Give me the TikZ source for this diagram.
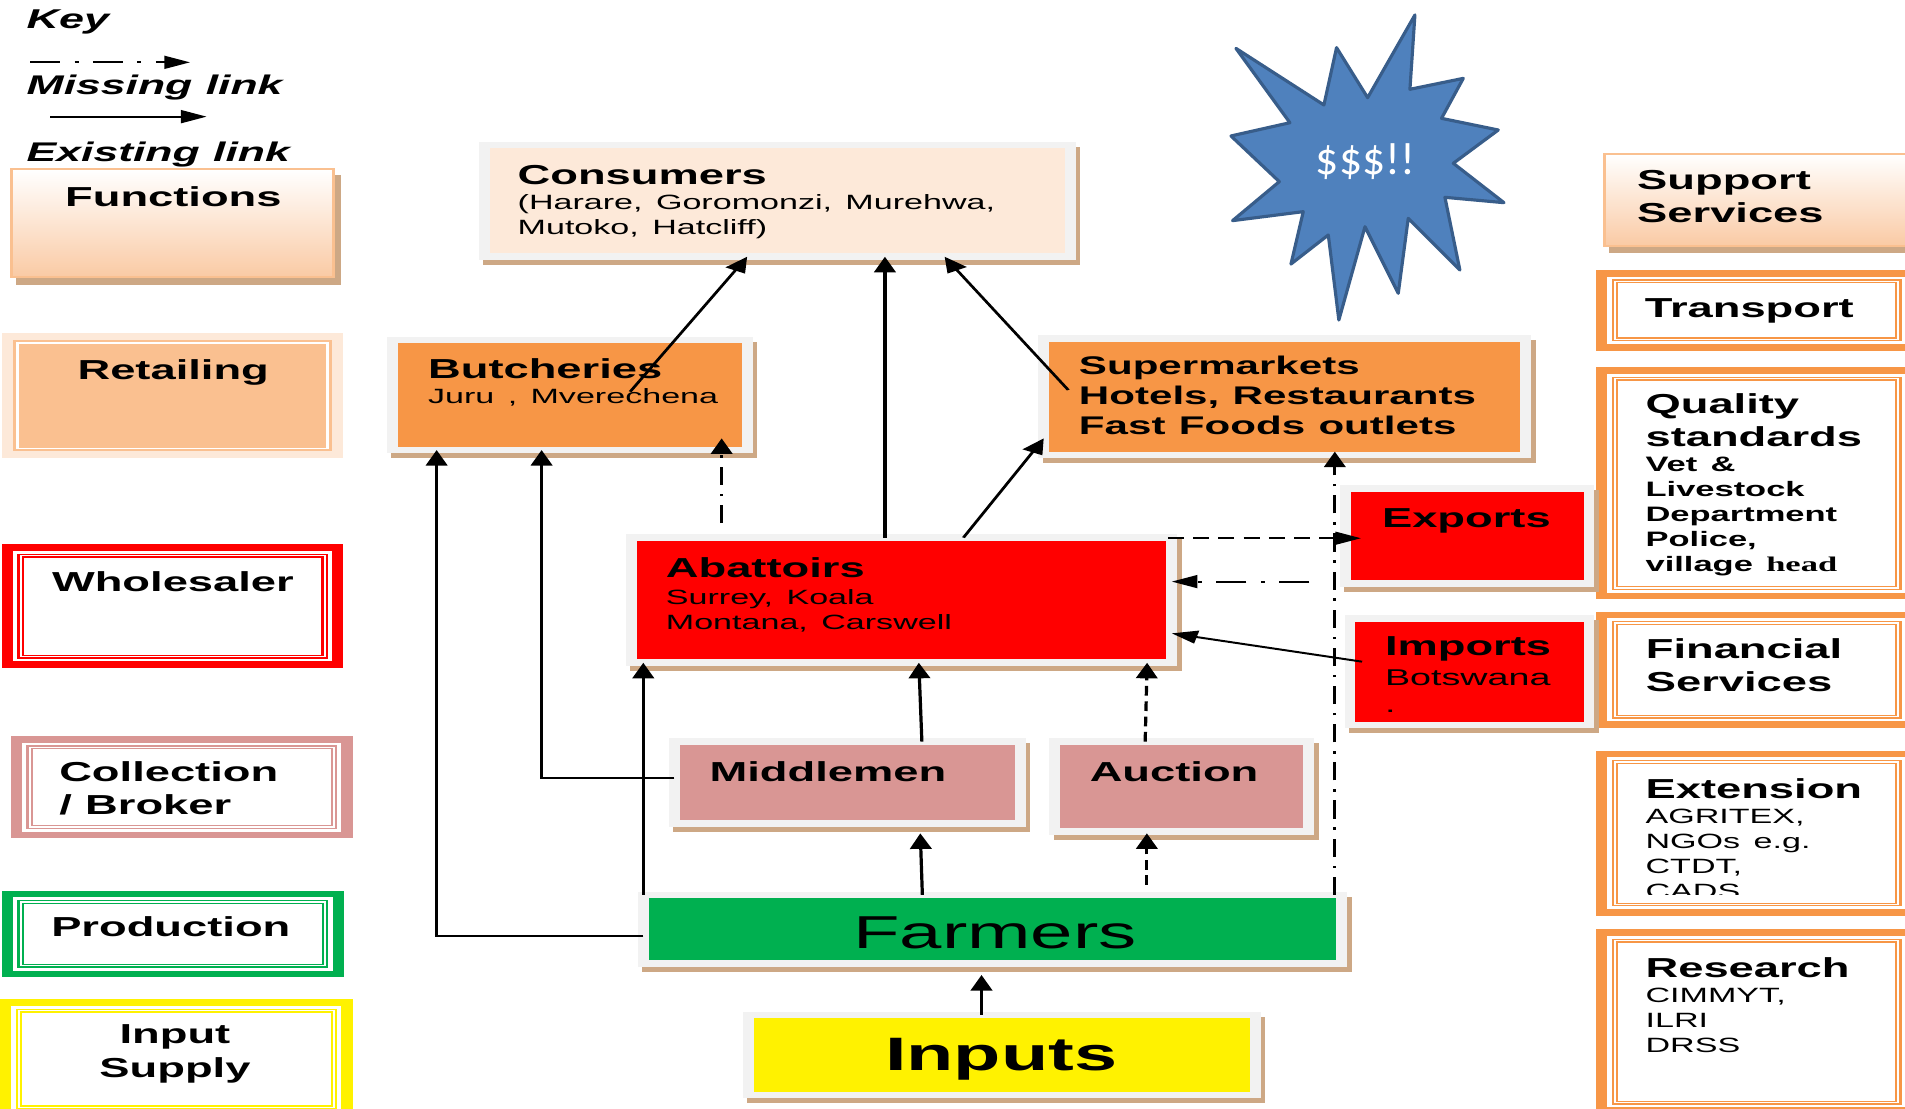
\documentclass[tikz,border=0pt]{standalone}
\usepackage{fontspec}
\setmainfont{Liberation Sans}
\newfontfamily\carlfont{Carlito}
\newfontfamily\timesfont{Liberation Serif}
\usetikzlibrary{fit,calc,arrows.meta}
\setlength{\parindent}{0pt}
\definecolor{framegray}{HTML}{F2F2F2}
\definecolor{shadowtan}{RGB}{205,168,133}
\definecolor{consfill}{HTML}{FDE9D9}
\definecolor{orangefill}{HTML}{F79646}
\definecolor{pinkfill}{HTML}{D99694}
\definecolor{greenfill}{HTML}{00B050}
\definecolor{retfill}{HTML}{FAC090}
\definecolor{funcbot}{RGB}{250,202,164}
\definecolor{funcline}{HTML}{FAC090}
\definecolor{starfill}{HTML}{4F81BD}
\definecolor{starline}{HTML}{385D8A}
\newcommand\Ttl{\fontsize{11.3}{13.75}\selectfont\bfseries}
\newcommand\Sbt{\fontsize{8.5}{10.3}\selectfont\mdseries}
\newcommand\Sbb{\fontsize{8.6}{10.3}\selectfont\bfseries}
\tikzset{
  gbox/.style={fill=#1, draw=framegray, line width=2.7pt, inner sep=0pt, outer sep=0pt,
    preaction={fill=shadowtan, draw=shadowtan, line width=2.7pt, transform canvas={xshift=1.12pt, yshift=-2.05pt}}},
  fbox/.style={fill=white, draw=#1, line width=2.8pt, inner sep=0pt, outer sep=0pt,
    path picture={\draw[#1, line width=0.55pt, double=white, double distance=0.5pt]
      ([shift={(3.3pt,-3.3pt)}]path picture bounding box.north west) rectangle
      ([shift={(-3.3pt,3.3pt)}]path picture bounding box.south east);}},
  funcbox/.style={top color=white, bottom color=funcbot, draw=funcline, line width=0.8pt, inner sep=0pt, outer sep=0pt,
    preaction={fill=shadowtan, draw=shadowtan, line width=0.8pt, transform canvas={xshift=1.42pt, yshift=-2.75pt}}},
  retbox/.style={fill=consfill, inner sep=0pt, outer sep=0pt,
    path picture={\fill[retfill] ([shift={(2.85pt,-2.85pt)}]path picture bounding box.north west) rectangle
      ([shift={(-2.85pt,2.85pt)}]path picture bounding box.south east);
      \draw[white, line width=0.7pt] ([shift={(4pt,-4pt)}]path picture bounding box.north west) rectangle
      ([shift={(-4pt,4pt)}]path picture bounding box.south east);}},
  txt/.style={anchor=north west, inner sep=0pt, outer sep=0pt, text width=250pt, align=left},
  txtc/.style={anchor=north, inner sep=0pt, outer sep=0pt, text width=200pt, align=center},
  exist/.style={line width=0.8pt, -{Triangle[length=6.4pt,width=5.3pt]}},
  miss/.style={exist, dash pattern=on 7.5pt off 3.6pt on 1pt off 3.6pt},
  dashlink/.style={exist, dash pattern=on 4pt off 2.3pt},
}
\begin{document}
\begin{tikzpicture}[x=0.5pt,y=-0.5pt]
\useasboundingbox (0,0) rectangle (1568,912);
\fill[white] (0,0) rectangle (1568,912);
\clip (0,0) rectangle (1568,912);

% starburst (not stretched)
\draw[fill=starfill, draw=starline, line width=1.3pt, line join=round]
 (1017.3,39.8) -- (1089.7,86.4) -- (1100.1,39.2) -- (1125.7,80.4) -- (1164.6,12.3) -- (1160.5,73.5)
 -- (1204.4,64.5) -- (1186.5,97.4) -- (1233.2,107) -- (1196.2,134.4) -- (1237.9,166.8) -- (1189.3,162.4)
 -- (1201.6,222.2) -- (1159.1,179.7) -- (1150.9,241.4) -- (1123.5,186.6) -- (1102,263.4) -- (1093.3,193.4)
 -- (1062.6,217.3) -- (1072.7,174.2) -- (1014.5,181.6) -- (1053,149.5) -- (1013.2,111.9) -- (1061.7,101) -- cycle;
\node[inner sep=0pt, text=white, font=\carlfont\fontsize{18.8}{20}\selectfont] (starT) at (1124,133) {\$\$\$!!};

\begin{scope}[x=0.30303pt, transform canvas={xscale=1.65}]
% key
\node[txt] (keyT) at (22,8.2) {\fontsize{11.2}{13}\selectfont\bfseries\itshape Key\par};
\coordinate (kmA) at (24.7,51.3);
\coordinate (kmB) at (156.4,51.3);
\draw[miss] (kmA) -- (kmB);
\node[txt] (missT) at (22,61.7) {\fontsize{11.1}{13}\selectfont\bfseries\itshape Missing link\par};
\coordinate (keA) at (41.2,96);
\coordinate (keB) at (170.1,96);
\draw[exist] (keA) -- (keB);
\node[txt] (existT) at (22,116.6) {\fontsize{11.1}{13}\selectfont\bfseries\itshape Existing link\par};

% left column
\node[funcbox, fit={(9.5,139.3) (274.4,228.3)}] (func) {};
\node[txtc] (funcT) at (142.7,153.6) {\Ttl Functions\par};
\node[retbox, fit={(1.4,274.3) (282.6,377.2)}] (ret) {};
\node[txtc] (retT) at (142.6,296.3) {\Ttl Retailing\par};
\node[fbox=red, fit={(6,450.8) (278,547.2)}] (whole) {};
\node[txtc] (wholeT) at (142.3,470.5) {\Ttl Wholesaler\par};
\node[fbox=pinkfill, fit={(13.4,608.6) (285.7,687.2)}] (coll) {};
\node[txt] (collT) at (48.8,626.9) {\Ttl Collection\par / Broker\par};
\node[fbox=greenfill, fit={(6,735.8) (278.5,801.6)}] (prod) {};
\node[txtc] (prodT) at (140.6,754.5) {\Ttl Production\par};
\node[fbox=yellow, fit={(4.6,825.3) (285.7,918)}] (insup) {};
\node[txtc] (insupT) at (144,843.6) {\Ttl Input\par Supply\par};

% right column
\node[funcbox, fit={(1320.9,127) (1585,202.2)}] (supp) {};
\node[txt] (suppT) at (1347.6,139.9) {\Ttl Support\par Services\par};
\node[fbox=orangefill, fit={(1318.2,225) (1573.4,285.8)}] (trans) {};
\node[txt] (transT) at (1353.9,245.5) {\Ttl Transport\par};
\node[fbox=orangefill, fit={(1318.2,305.1) (1573.4,490.5)}] (qual) {};
\node[txt] (qualT) at (1354.5,323.7) {\Ttl Quality\par standards\par\Sbb Vet \&\par Livestock\par Department\par Police,\par village {\timesfont head}\par};
\node[fbox=orangefill, fit={(1318.2,506.2) (1573.4,596.6)}] (fin) {};
\node[txt] (finT) at (1354.7,525.4) {\Ttl Financial\par Services\par};
\node[fbox=orangefill, fit={(1318.2,620.6) (1573.4,751.1)}] (ext) {};
\begin{scope}
\clip (1300,600) rectangle (1570,736.6);
\node[txt] (extT) at (1354.5,640.6) {\Ttl Extension\par\Sbt AGRITEX,\par NGOs e.g.\par CTDT,\par CADS\par};
\end{scope}
\node[fbox=orangefill, fit={(1318.2,767.7) (1573.4,914.2)}] (res) {};
\node[txt] (resT) at (1354.5,787.9) {\Ttl Research\par\Sbt CIMMYT,\par ILRI\par DRSS\par};

% main chain boxes
\node[gbox=consfill, fit={(398.5,119.3) (880.8,211.3)}] (cons) {};
\node[txt] (consT) at (426.1,135.8) {\Ttl Consumers\par\Sbt (Harare, Goromonzi, Murehwa,\par Mutoko, Hatcliff)\par};
\node[gbox=orangefill, fit={(322.9,279.8) (615.1,370.4)}] (butch) {};
\node[txt] (butchT) at (352.4,295) {\Ttl Butcheries\par\Sbt Juru , Mverechena\par};
\node[gbox=orangefill, fit={(859.1,278.4) (1255.8,374.5)}] (super) {};
\node[txt] (superT) at (888.1,293) {\fontsize{10.5}{12.35}\selectfont\bfseries Supermarkets\par Hotels, Restaurants\par Fast Foods outlets\par};
\node[gbox=red, fit={(519.7,442.5) (964.5,545.5)}] (abat) {};
\node[txt] (abatT) at (548.1,458.9) {\Ttl Abattoirs\par\fontsize{8.5}{11.2}\selectfont\mdseries Surrey, Koala\par\Sbt Montana, Carswell\par};
\node[gbox=red, fit={(1107.4,401.9) (1307.9,480.2)}] (exp) {};
\node[txtc] (expT) at (1207,418.4) {\Ttl Exports\par};
\node[gbox=red, fit={(1111.2,508.9) (1307.9,596.7)}] (imp) {};
\node[txt] (impT) at (1140,524) {\Ttl Imports\par\fontsize{9.4}{12.4}\selectfont\mdseries Botswana\par\fontsize{9.4}{11}\selectfont .\par};
\node[gbox=pinkfill, fit={(555.1,610.4) (840,677.7)}] (midd) {};
\node[txt] (middT) at (584.1,626.5) {\Ttl Middlemen\par};
\node[gbox=pinkfill, fit={(867.9,610.4) (1077.2,684.3)}] (auct) {};
\node[txt] (auctT) at (897,626.9) {\Ttl Auction\par};
\node[gbox=greenfill, fit={(529.5,736.6) (1104.5,792.9)}] (farm) {};
\node[txtc] (farmT) at (818.9,754.5) {\fontsize{19}{22}\selectfont Farmers\par};
\node[gbox=yellow, fit={(615.9,835.4) (1033.1,901.3)}] (inp) {};
\node[txtc] (inpT) at (824.1,854.6) {\fontsize{19.3}{22}\selectfont\bfseries Inputs\par};

% connectors
\draw[exist] ($(butch.north west)+(195.8,42.6)$) -- (cons.south -| 615,0);
\draw[exist] (abat.north -| 728.4,0) -- (cons.south -| 728.4,0);
\draw[exist] ($(super.north west)+(20.2,42.6)$) -- (cons.south -| 777.5,0);
\draw[exist] (abat.north -| 793,0) -- (super.west |- 0,360.8);
\draw[miss] ($(abat.north -| 594,0)+(0,-12)$) -- ($(butch.south -| 594,0)+(0,-9.6)$);
\draw[exist] (farm.west |- 0,770.1) -| (butch.south -| 359.4,0);
\draw[exist] (midd.west |- 0,640) -| (butch.south -| 445.8,0);
\draw[exist] (farm.north west) -- (abat.south -| farm.north west);
\draw[exist] (midd.north -| 758.8,0) -- (abat.south -| 756.3,0);
\draw[dashlink] (auct.north -| 942.6,0) -- (abat.south -| 944.2,0);
\draw[exist] (farm.north -| 759.2,0) -- ($(midd.south -| 757.5,0)+(0,8.2)$);
\draw[dashlink] ($(farm.north -| 944,0)+(0,-8.2)$) -- ($(auct.south -| 944,0)+(0,1.6)$);
\draw[exist] (inp.north -| 807.9,0) -- ($(farm.south -| 807.9,0)+(0,9.6)$);
\draw[miss] (farm.north -| 1098.7,0) -- ($(super.south -| 1098.7,0)+(0,-2.8)$);
\draw[dashlink] ($(abat.north east)+(-3.3,0.5)$) -- ($(exp.west |- 0,443)+(12.8,0)$);
\draw[miss] ($(exp.west |- 0,478.7)+(-29.7,0)$) -- (abat.east |- 0,478.7);
\draw[exist] ($(imp.west |- 0,544.6)+(9.9,0)$) -- (abat.east |- 0,521.3);
\end{scope}
\end{tikzpicture}
\end{document}
